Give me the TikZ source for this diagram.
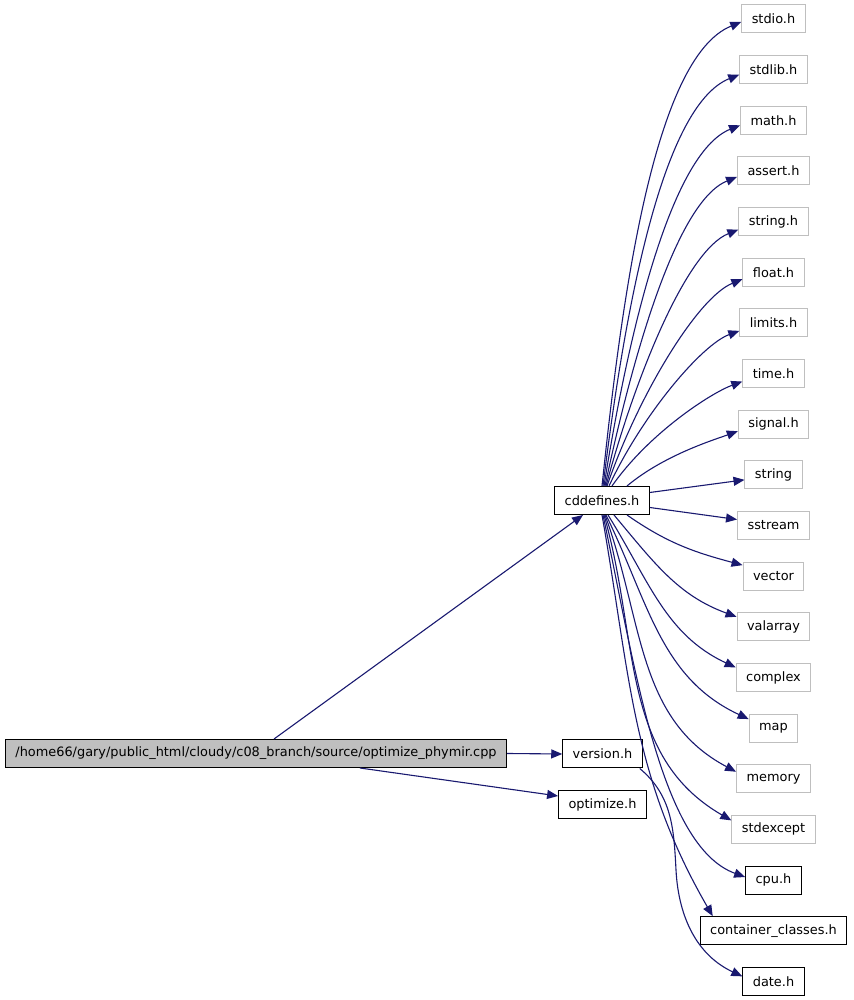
\documentclass[tikz,border=0pt]{standalone}
\usepackage{fontspec}
\setmainfont{DejaVu Sans}
\usepackage{tikz}
\usetikzlibrary{
  arrows.meta,
  positioning,
  calc
}
\definecolor{inclEdge}{HTML}{191970}
\definecolor{sysGray}{HTML}{BFBFBF}

\begin{document}
\begin{tikzpicture}[x=1pt, y=1pt,
  hdr/.style={draw, line width=1pt, minimum height=28pt, inner xsep=10pt, inner ysep=0pt,
    font=\fontsize{12.9}{14}\selectfont},
  syshdr/.style={hdr, draw=sysGray},
  lochdr/.style={hdr, draw=black},
  srcfile/.style={hdr, draw=black, fill=sysGray},
  incl/.style={draw=inclEdge, line width=1.1pt, -{Triangle[length=11pt, width=9pt]}}
]
  \fill[white] (0,0) rectangle (853,1000);
  % source file and its direct includes
  \node[srcfile] (main) at (256,246.5) {/home66/gary/public\_html/cloudy/c08\_branch/source/optimize\_phymir.cpp};
  \node[lochdr] (cdd) at (602,499.5) {cddefines.h};
  \node[lochdr] (ver) at (602.5,246) {version.h};
  \node[lochdr] (opt) at (602.5,195) {optimize.h};
  % right column
  \foreach \nm/\txt/\k in {stdio/stdio.h/0, stdlib/stdlib.h/1, math/math.h/2, assert/assert.h/3,
      stringh/string.h/4, float/float.h/5, limits/limits.h/6, time/time.h/7, signal/signal.h/8,
      string/string/9, sstream/sstream/10, vector/vector/11, valarray/valarray/12,
      complex/complex/13, map/map/14, memory/memory/15, stdexcept/stdexcept/16}
    \node[syshdr] (\nm) at (773.5,{981-50.65*\k}) {\txt};
  \foreach \nm/\txt/\k in {cpu/cpu.h/17, contcls/container\_classes.h/18, date/date.h/19}
    \node[lochdr] (\nm) at (773.5,{981-50.65*\k}) {\txt};
  \coordinate (vbend) at (676,130);

  % edges
  \draw[incl] ([xshift=18]main.north) -- ([xshift=-19]cdd.south);
  \draw[incl] (main.east) -- (ver.west);
  \draw[incl] ([xshift=104]main.south) -- ([yshift=9]opt.west);
  \draw[incl] ([xshift=-3]ver.south east) to[out=-40,in=93] (vbend) to[out=-87,in=155] ([yshift=5]date.west);
  \foreach \tg/\sx/\o/\i/\ty in {stdio/0/84/202/-3, stdlib/1/83/202/-5, math/2/81/202/-5,
      assert/3/78/202/-6, stringh/4/75/202/-8, float/5/71/202/-7, limits/7/65/200/-8,
      time/10/55/200/-8, signal/25/40/200/-7}
    \draw[incl] ([xshift=\sx]cdd.north) to[out=\o,in=\i,in looseness=0.5] ([yshift=\ty]\tg.west);
  \draw[incl] ([yshift=8]cdd.east) -- ([yshift=-5]string.west);
  \draw[incl] ([yshift=-7]cdd.east) -- ([yshift=6]sstream.west);
  \foreach \tg/\sx/\o/\i/\ty in {vector/25/-35/165/11, valarray/12/-50/160/10, complex/6/-58/155/10,
      map/4/-64/155/9, memory/3/-70/152/7, stdexcept/2/-74/150/9}
    \draw[incl] ([xshift=\sx]cdd.south) to[out=\o,in=\i] ([yshift=\ty]\tg.west);
  \draw[incl] ([xshift=1]cdd.south) to[out=-78,in=160,in looseness=0.6] ([yshift=3]cpu.west);
  \draw[incl] (cdd.south) to[out=-80,in=120] ([xshift=13]contcls.north west);
\end{tikzpicture}
\end{document}
